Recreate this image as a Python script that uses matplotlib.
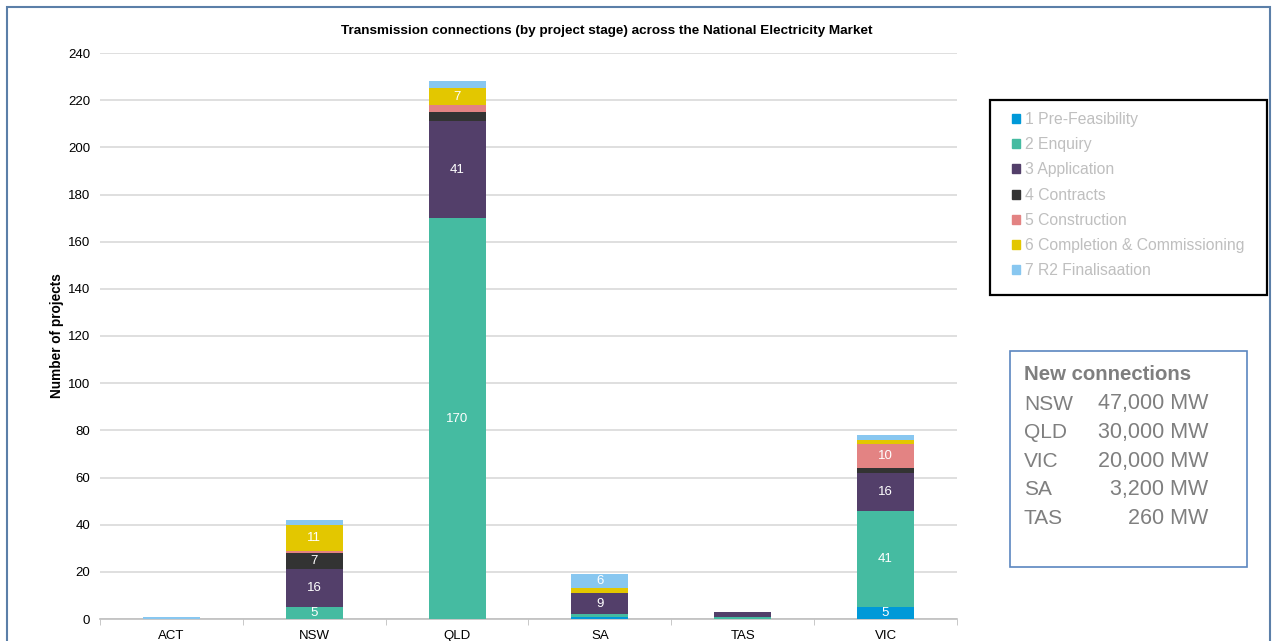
import numpy as np
import matplotlib.pyplot as plt
import matplotlib.patches as mpatches

# Dados
regions = ["ACT", "NSW", "QLD", "SA", "TAS", "VIC"]
stages = ["1 Pre-Feasibility", "2 Enquiry", "3 Application", "4 Contracts",
          "5 Construction", "6 Completion & Commissioning", "7 R2 Finalisaation"]
pre_feasibility = [0, 0, 0, 1, 0, 5]
enquiry = [0, 5, 170, 1, 1, 41]
application = [0, 16, 41, 9, 2, 16]
contracts = [0, 7, 4, 0, 0, 2]
construction = [0, 1, 3, 0, 0, 10]
completion = [0, 11, 7, 2, 0, 2]
r2_finalisation = [1, 2, 3, 6, 0, 2]

box_regions = ["NSW", "QLD", "VIC", "SA", "TAS"]
box_mw = ["47,000 MW", "30,000 MW", "20,000 MW", "3,200 MW", "260 MW"]

colors = ["#0099D8", "#45BBA1", "#533F6A", "#333333", "#E38383", "#E3C700", "#88C7F0"]

series = [pre_feasibility, enquiry, application, contracts,
          construction, completion, r2_finalisation]

plt.rcParams['font.family'] = ['Liberation Sans', 'DejaVu Sans']

fig = plt.figure(figsize=(12.75, 6.41), dpi=100)
ax = fig.add_axes([100 / 1275, 1 - 619 / 641, 857 / 1275, 566 / 641])

x = np.arange(len(regions))
bottom = np.zeros(len(regions))
for vals, color, label in zip(series, colors, stages):
    vals = np.array(vals, dtype=float)
    ax.bar(x, vals, width=0.4, bottom=bottom, color=color, label=label, zorder=3)
    # rótulos apenas nos segmentos maiores
    for xi, v, b in zip(x, vals, bottom):
        if v >= 5:
            ax.text(xi, b + v / 2, f"{int(v)}", ha="center", va="center",
                    color="white", fontsize=9.5, zorder=4)
    bottom += vals

ax.set_xlim(-0.5, len(regions) - 0.5)
ax.set_ylim(0, 240)
ax.set_yticks(np.arange(0, 241, 20))
ax.set_xticks(x)
ax.set_xticklabels(regions)
ax.set_xticks(np.arange(-0.5, len(regions), 1), minor=True)
ax.tick_params(axis="x", which="major", length=0, labelsize=9.5, pad=8)
ax.tick_params(axis="x", which="minor", length=4, color="#BFBFBF", direction="out")
ax.tick_params(axis="y", length=0, labelsize=9.5, pad=7)
ax.grid(axis="y", color="#D9D9D9", linewidth=1.2, zorder=0)
for side in ["top", "right", "left"]:
    ax.spines[side].set_visible(False)
ax.spines["bottom"].set_color("#BFBFBF")
ax.spines["bottom"].set_linewidth(1.2)
ax.set_ylabel("Number of projects", fontsize=9.8, fontweight="bold", labelpad=3)

# Título centrado na área do gráfico inteiro (não só no eixo)
fig.text(607 / 1275, 1 - 31 / 641,
         "Transmission connections (by project stage) across the National Electricity Market",
         fontsize=9.7, fontweight="bold", ha="center", va="center")

# Legenda (sem moldura; moldura desenhada à parte)
handles = [mpatches.Patch(color=c, label=s) for c, s in zip(colors, stages)]
fig.legend(handles=handles, loc="upper left",
           bbox_to_anchor=(1012 / 1275, 1 - 112 / 641), fontsize=11.3,
           frameon=False, handlelength=0.5, handleheight=0.5, handletextpad=0.35,
           labelspacing=0.65, borderpad=0, borderaxespad=0, labelcolor="#BFBFBF")
fig.patches.append(mpatches.Rectangle((990 / 1275, 1 - 295 / 641), 277 / 1275, 195 / 641,
                                      transform=fig.transFigure, fill=False,
                                      edgecolor="black", linewidth=1.6))

# Caixa de novas conexões
fig.patches.append(mpatches.Rectangle((1010 / 1275, 1 - 567 / 641), 237 / 1275, 216 / 641,
                                      transform=fig.transFigure, fill=False,
                                      edgecolor="#5B86C0", linewidth=1.2))
fig.text(1024 / 1275, 1 - 375 / 641, "New connections", fontsize=14.7, fontweight="bold",
         color="#7F7F7F", va="center")
for i, (r, mw) in enumerate(zip(box_regions, box_mw)):
    yy = 1 - (404 + i * 28.6) / 641
    fig.text(1024 / 1275, yy, r, fontsize=15, color="#7F7F7F", va="center")
    fig.text(1208 / 1275, yy, mw, fontsize=15.5, color="#7F7F7F", va="center", ha="right")

# Borda externa
fig.patches.append(mpatches.Rectangle((7 / 1275, -0.01), 1263 / 1275, 1 - 7 / 641 + 0.01,
                                      transform=fig.transFigure, fill=False,
                                      edgecolor="#5B7FA8", linewidth=1.5))

fig.savefig("out.png", dpi=100)
